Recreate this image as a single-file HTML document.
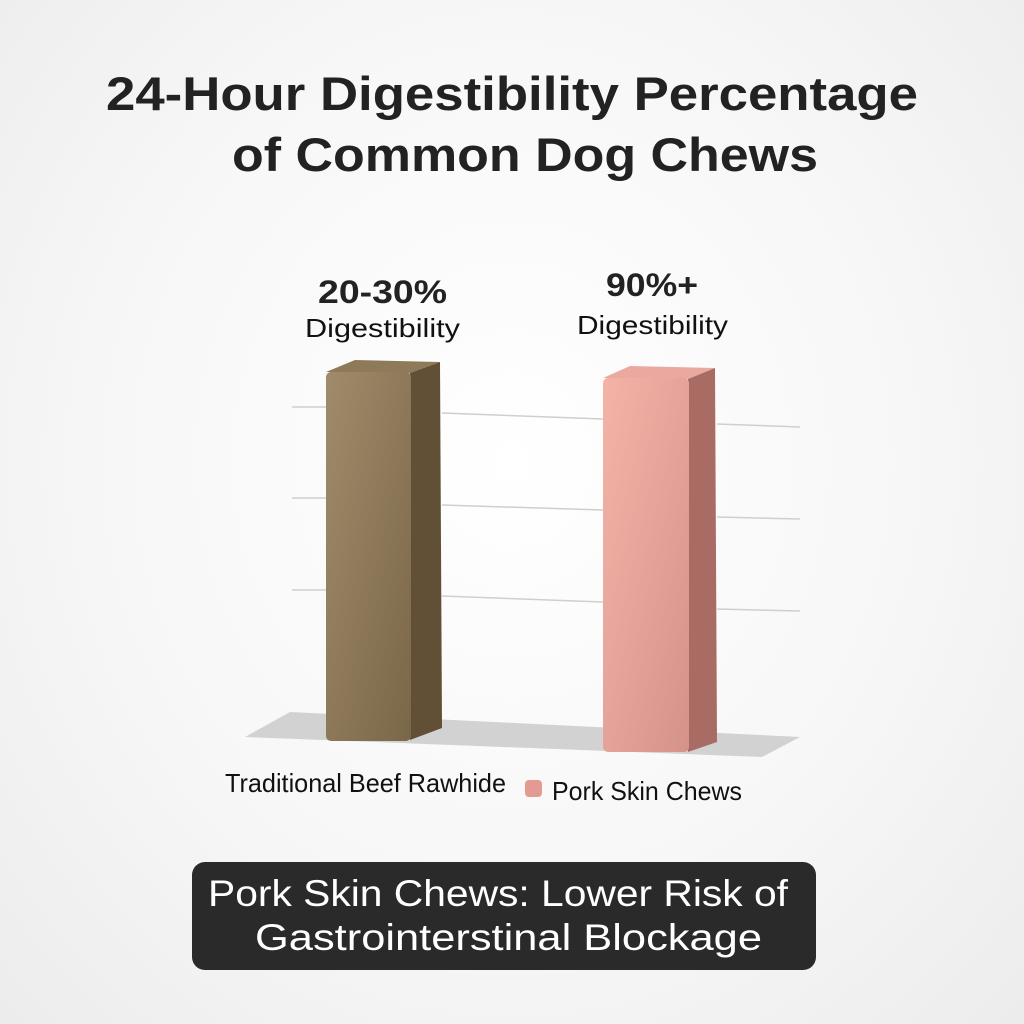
<!DOCTYPE html><html><head><style>
body{margin:0;width:1024px;height:1024px;overflow:hidden;background:radial-gradient(ellipse at 50% 45%,#ffffff 0%,#f7f7f7 55%,#ececec 100%);font-family:"Liberation Sans",sans-serif;}
</style></head><body>
<svg width="1024" height="1024" viewBox="0 0 1024 1024" xmlns="http://www.w3.org/2000/svg" style="position:absolute;left:0;top:0">
<defs>
<linearGradient id="bf" x1="0" y1="0" x2="1" y2="1"><stop offset="0" stop-color="#a08b6a"/><stop offset="1" stop-color="#7a6748"/></linearGradient>
<linearGradient id="pf" x1="0" y1="0" x2="1" y2="1"><stop offset="0" stop-color="#f5b3a8"/><stop offset="1" stop-color="#d49289"/></linearGradient>
</defs>
<g font-family="Liberation Sans, sans-serif" font-weight="bold" fill="#222">
<text x="106" y="110" font-size="47" textLength="812" lengthAdjust="spacingAndGlyphs">24-Hour Digestibility Percentage</text>
<text x="232" y="171" font-size="47" textLength="586" lengthAdjust="spacingAndGlyphs">of Common Dog Chews</text>
<text x="318" y="303" font-size="32" textLength="129" lengthAdjust="spacingAndGlyphs">20-30%</text>
<text x="305" y="337" font-size="26" font-weight="normal" fill="#111" textLength="155" lengthAdjust="spacingAndGlyphs">Digestibility</text>
<text x="606" y="296" font-size="32" textLength="92" lengthAdjust="spacingAndGlyphs">90%+</text>
<text x="577" y="334" font-size="26" font-weight="normal" fill="#111" textLength="151" lengthAdjust="spacingAndGlyphs">Digestibility</text>
</g>
<polygon points="245,737 290,712 800,737 762,757" fill="#d2d2d2"/>
<g stroke="#cfcfcf" stroke-width="1.5">
<line x1="292" y1="407" x2="326" y2="407"/><line x1="442" y1="413" x2="603" y2="419"/><line x1="717" y1="424" x2="800" y2="427"/>
<line x1="292" y1="498" x2="326" y2="498"/><line x1="442" y1="505" x2="603" y2="510"/><line x1="717" y1="517" x2="800" y2="519"/>
<line x1="292" y1="590" x2="326" y2="590"/><line x1="442" y1="596" x2="603" y2="602"/><line x1="717" y1="609" x2="800" y2="611"/>
</g>
<polygon points="326,372 355,360 440,362 410,373" fill="#8e7a58"/>
<polygon points="410,373 440,362 442,728 410,740" fill="#625036"/>
<rect x="326" y="372" width="85" height="369" rx="5" fill="url(#bf)"/>
<polygon points="603,378 630,366 715,368 688,379" fill="#e9a99f"/>
<polygon points="688,379 715,368 717,742 688,752" fill="#a86c64"/>
<rect x="603" y="378" width="86" height="374" rx="5" fill="url(#pf)"/>
<g font-family="Liberation Sans, sans-serif">
<text x="225" y="792" font-size="26" fill="#111" textLength="281" lengthAdjust="spacingAndGlyphs">Traditional Beef Rawhide</text>
<rect x="525" y="780" width="17" height="17" rx="4" fill="#e39a92"/>
<text x="552" y="800" font-size="26" fill="#111" textLength="190" lengthAdjust="spacingAndGlyphs">Pork Skin Chews</text>
<rect x="192" y="862" width="624" height="108" rx="13" fill="#2a2a2a"/>
<text x="208" y="906" font-size="37" fill="#fff" textLength="580" lengthAdjust="spacingAndGlyphs">Pork Skin Chews: Lower Risk of</text>
<text x="255" y="950" font-size="37" fill="#fff" textLength="507" lengthAdjust="spacingAndGlyphs">Gastrointerstinal Blockage</text>
</g>
</svg>
</body></html>
